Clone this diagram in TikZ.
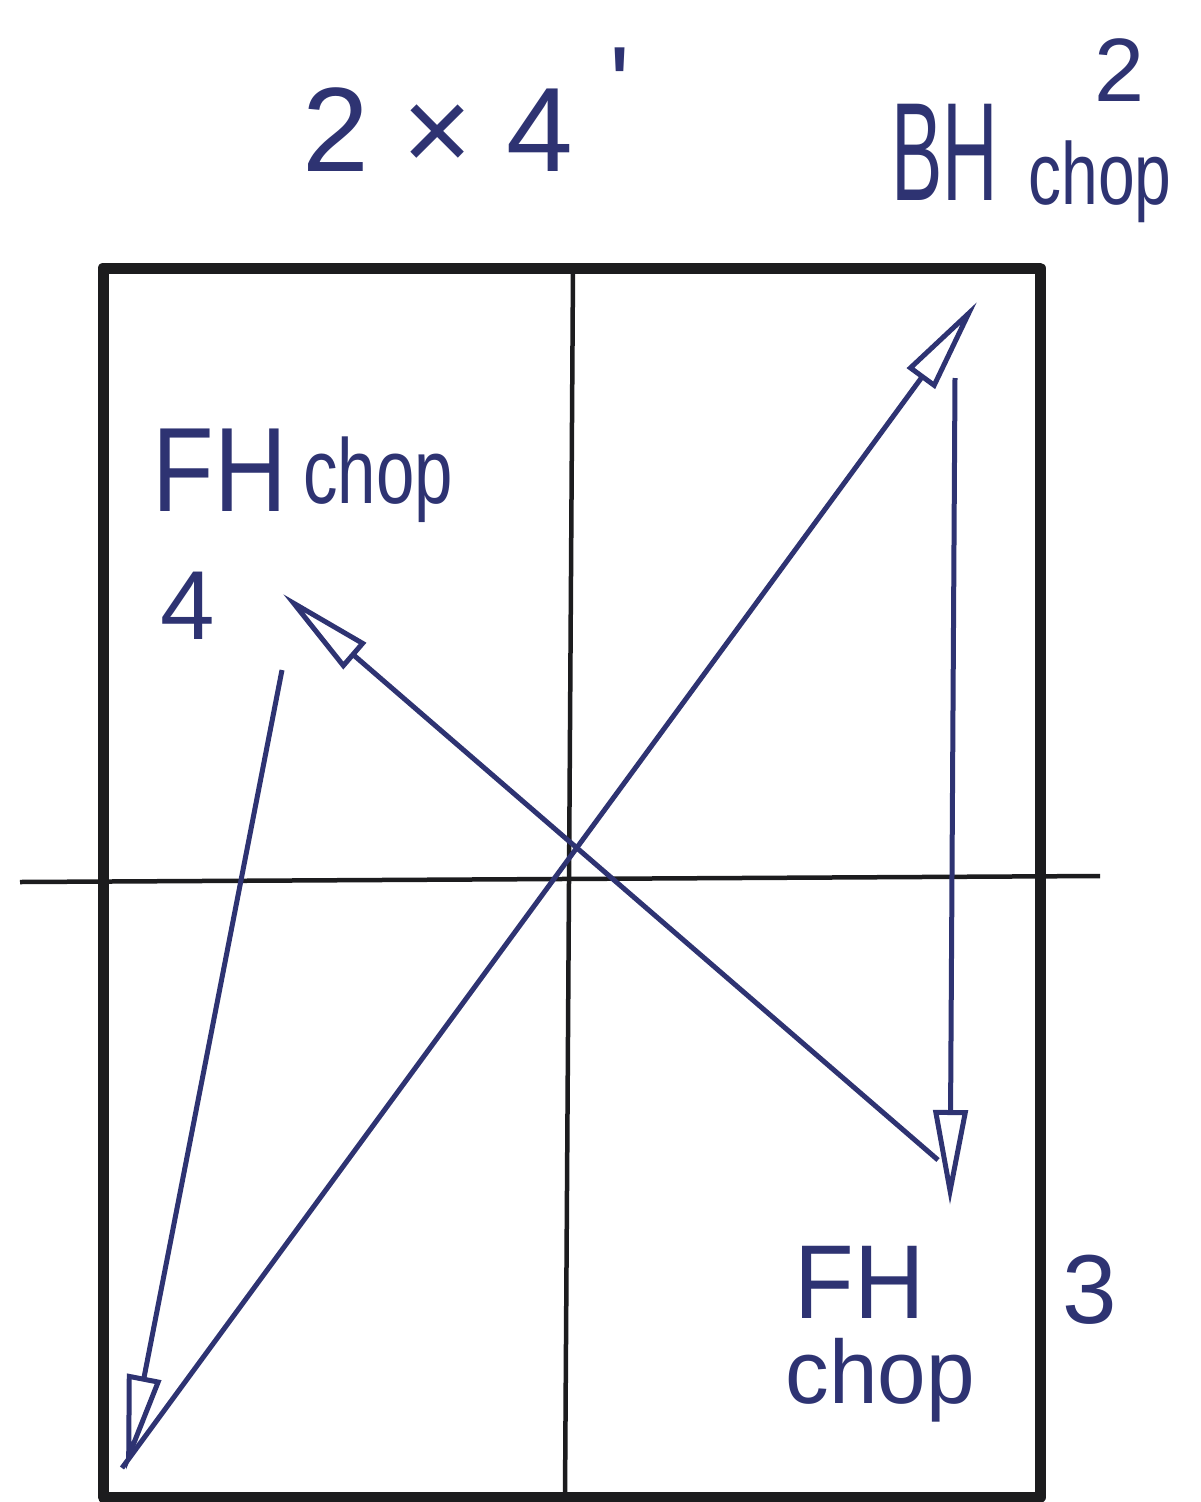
\documentclass[tikz,border=0pt]{standalone}
\usepackage{fontspec}
\setmainfont{Liberation Sans}
\usetikzlibrary{arrows.meta}
\definecolor{ink}{HTML}{2E3372}
\definecolor{pencil}{HTML}{1C1C1E}
\tikzset{
  tableline/.style={pencil, line width=11pt, line join=round},
  midline/.style={pencil, line width=4.5pt},
  shot/.style={ink, line width=5pt, -{Triangle[open, length=95pt, width=34pt, line width=5pt]}},
  lab/.style={ink, inner sep=0pt, anchor=center},
}
\newcommand{\hwtext}[3]{\scalebox{#2}[1]{\fontsize{#1}{#1}\selectfont #3}}
\begin{document}
\begin{tikzpicture}[x=1pt, y=-1pt]
\useasboundingbox[fill=white] (0,0) rectangle (1200,1502);
% table
\coordinate (tl) at (103,268);
\coordinate (br) at (1040,1497);
\draw[tableline] (tl) rectangle (br);
\coordinate (vt) at (573,268);
\coordinate (vb) at (565,1497);
\draw[midline] (vt) -- (vb);
\coordinate (hl) at (20,882);
\coordinate (hr) at (1100,876);
\draw[midline] (hl) -- (hr);
% shot points
\coordinate (s1) at (122,1468);
\coordinate (p2) at (977,302);
\coordinate (s2) at (955,378);
\coordinate (p3) at (950,1205);
\coordinate (s3) at (938,1160);
\coordinate (p4) at (283,594);
\coordinate (s4) at (282,670);
\coordinate (p1) at (126,1470);
\draw[shot] (s1) -- (p2);
\draw[shot] (s2) -- (p3);
\draw[shot] (s3) -- (p4);
\draw[shot] (s4) -- (p1);
% labels
\node[lab] (title) at (438,130) {\hwtext{120}{1}{2 × 4}};
\node[lab] (prime) at (620,86) {\hwtext{110}{1}{\textquotesingle}};
\node[lab] (n2) at (1120,70) {\hwtext{90}{1}{2}};
\node[lab] (bh) at (945,152) {\hwtext{140}{0.55}{BH}};
\node[lab] (bhchop) at (1100,182) {\hwtext{88}{0.75}{chop}};
\node[lab] (fh1) at (220,470) {\hwtext{120}{0.84}{FH}};
\node[lab] (fh1chop) at (378,480) {\hwtext{92}{0.75}{chop}};
\node[lab] (n4) at (188,606) {\hwtext{98}{1}{4}};
\node[lab] (fh2) at (860,1282) {\hwtext{105}{0.93}{FH}};
\node[lab] (fh2chop) at (880,1380) {\hwtext{90}{0.97}{chop}};
\node[lab] (n3) at (1090,1290) {\hwtext{98}{1}{3}};
\end{tikzpicture}
\end{document}
